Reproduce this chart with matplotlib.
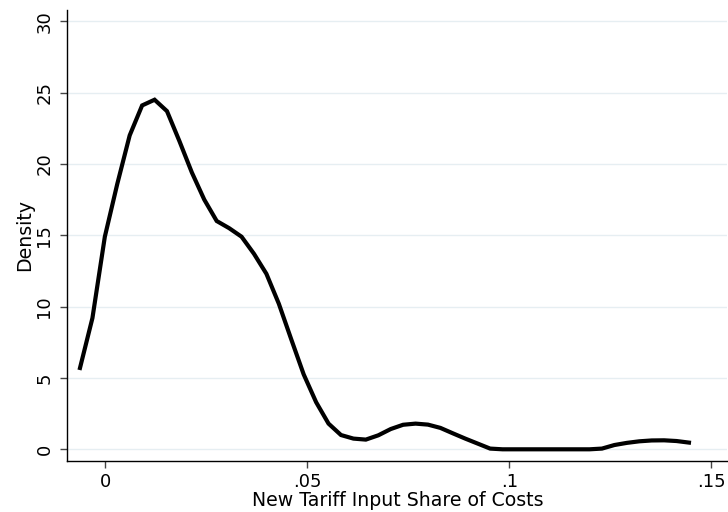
import matplotlib
matplotlib.use("Agg")
import matplotlib.pyplot as plt

# Kernel density estimate points
share = [-0.00626, -0.00318, -0.00011, 0.00297, 0.00604, 0.00912, 0.01220, 0.01527,
         0.01835, 0.02143, 0.02450, 0.02758, 0.03065, 0.03373, 0.03681, 0.03988,
         0.04296, 0.04604, 0.04911, 0.05219, 0.05526, 0.05834, 0.06142, 0.06449,
         0.06757, 0.07065, 0.07372, 0.07680, 0.07987, 0.08295, 0.08603, 0.08910,
         0.09218, 0.09526, 0.09833, 0.10141, 0.10448, 0.10756, 0.11064, 0.11371,
         0.11679, 0.11987, 0.12294, 0.12602, 0.12909, 0.13217, 0.13525, 0.13832,
         0.14140, 0.14447]
density = [5.7, 9.2, 14.9, 18.6, 22.0, 24.1, 24.5, 23.7,
           21.6, 19.4, 17.5, 16.0, 15.5, 14.9, 13.7, 12.3,
           10.2, 7.7, 5.25, 3.3, 1.8, 1.0, 0.75, 0.68,
           0.98, 1.42, 1.72, 1.8, 1.73, 1.5, 1.12, 0.75,
           0.4, 0.05, 0.0, 0.0, 0.0, 0.0, 0.0, 0.0,
           0.0, 0.0, 0.05, 0.3, 0.45, 0.56, 0.62, 0.63,
           0.58, 0.47]

xticks = [0, 0.05, 0.1, 0.15]
xticklabels = ["0", ".05", ".1", ".15"]
yticks = [0, 5, 10, 15, 20, 25, 30]
yticklabels = ["0", "5", "10", "15", "20", "25", "30"]

fig = plt.figure(figsize=(7.28, 5.12), dpi=100)
ax = fig.add_axes([0.0924, 0.0996, 0.9069, 0.8809])

for yv in yticks:
    ax.axhline(yv, color="#e6eef2", lw=1.0, zorder=0)

ax.plot(share, density, color="black", lw=3.0, solid_joinstyle="miter", zorder=3)

ax.set_xlim(-0.00941, 0.15401)
ax.set_ylim(-0.82, 30.79)

ax.set_xticks(xticks)
ax.set_xticklabels(xticklabels)
ax.set_yticks(yticks)
ax.set_yticklabels(yticklabels, rotation=90, va="center")

ax.tick_params(axis="both", direction="out", length=5, width=1.0,
               color="#444444", labelsize=13, labelcolor="black")
ax.tick_params(axis="y", pad=5)
ax.tick_params(axis="x", pad=3.5)

for side in ["top", "right"]:
    ax.spines[side].set_visible(False)
for side in ["left", "bottom"]:
    ax.spines[side].set_linewidth(1.0)
    ax.spines[side].set_color("black")

ax.set_xlabel("New Tariff Input Share of Costs", fontsize=13.6, labelpad=0)
ax.set_ylabel("Density", fontsize=13.6, labelpad=1)

fig.savefig("out.png", dpi=100)
